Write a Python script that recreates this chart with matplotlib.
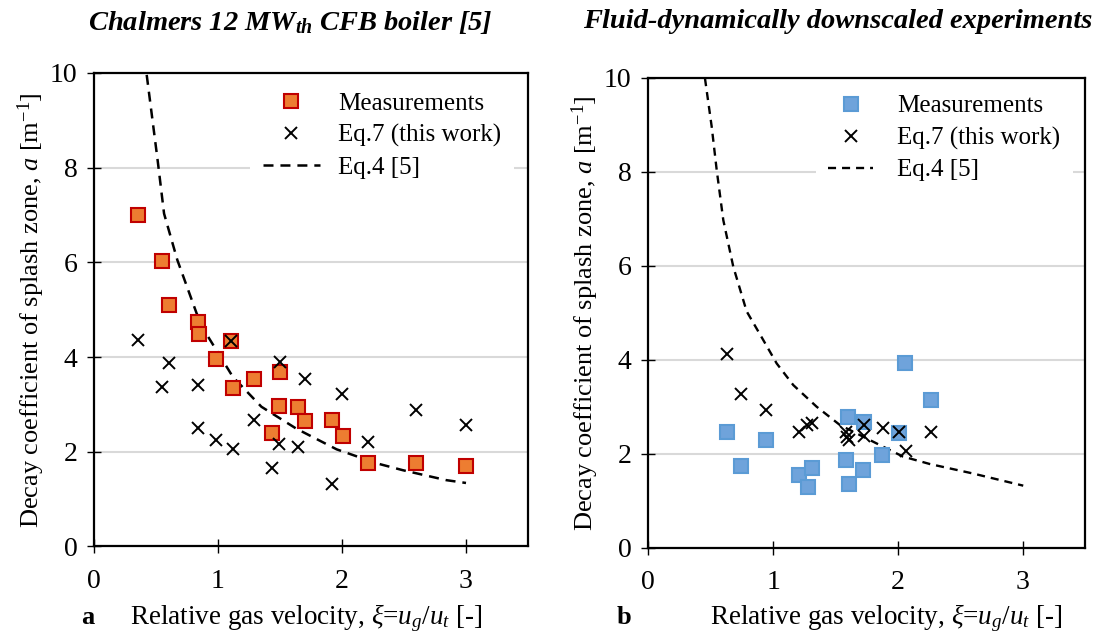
import matplotlib
matplotlib.use("Agg")
import matplotlib.pyplot as plt

plt.rcParams['font.family'] = ['Liberation Serif', 'DejaVu Serif']
plt.rcParams['mathtext.fontset'] = 'custom'
plt.rcParams['mathtext.rm'] = 'Liberation Serif'
plt.rcParams['mathtext.it'] = 'Liberation Serif:italic'
plt.rcParams['mathtext.bf'] = 'Liberation Serif:bold'
plt.rcParams['mathtext.bfit'] = 'Liberation Serif:italic:bold'
plt.rcParams['lines.scale_dashes'] = False

# panel a: Chalmers 12 MWth CFB boiler
a_meas_x = [0.352, 0.546, 0.605, 0.84, 0.847, 1.105, 0.98, 1.118, 1.293, 1.503,
            1.492, 1.438, 1.648, 1.704, 1.922, 2.005, 2.212, 2.60, 3.003]
a_meas_y = [7.00, 6.03, 5.10, 4.73, 4.49, 4.34, 3.95, 3.345, 3.535, 3.677,
            2.96, 2.40, 2.944, 2.655, 2.676, 2.33, 1.755, 1.755, 1.70]
a_eq7_x = [0.352, 0.605, 0.546, 0.839, 1.105, 1.503, 1.704, 2.0, 1.293, 0.84,
           0.98, 1.118, 1.492, 1.648, 2.212, 2.60, 3.003, 1.435, 1.922]
a_eq7_y = [4.36, 3.88, 3.37, 3.415, 4.34, 3.895, 3.54, 3.225, 2.67, 2.50,
           2.24, 2.057, 2.156, 2.106, 2.21, 2.89, 2.557, 1.66, 1.325]
a_eq4_x = [0.425, 0.513, 0.565, 0.672, 0.828, 0.92, 1.12, 1.35, 1.63, 1.957,
           2.28, 2.49, 2.84, 3.0]
a_eq4_y = [9.96, 8.16, 7.03, 6.05, 4.92, 4.43, 3.58, 2.95, 2.49, 2.05,
           1.755, 1.61, 1.40, 1.34]

# panel b: fluid-dynamically downscaled experiments
b_meas_x = [0.631, 0.745, 0.94, 1.205, 1.28, 1.314, 1.598, 1.582, 1.61, 1.726,
            1.72, 1.875, 2.011, 2.06, 2.265]
b_meas_y = [2.455, 1.74, 2.29, 1.547, 1.285, 1.70, 2.774, 1.872, 1.36, 2.674,
            1.653, 1.965, 2.447, 3.936, 3.15]
b_eq7_x = [0.633, 0.745, 0.94, 1.205, 1.269, 1.309, 1.584, 1.592, 1.61, 1.726,
           1.726, 1.878, 2.011, 2.063, 2.265]
b_eq7_y = [4.13, 3.277, 2.93, 2.47, 2.61, 2.66, 2.47, 2.36, 2.29, 2.61,
           2.376, 2.54, 2.455, 2.064, 2.46]
b_eq4_x = [0.454, 0.508, 0.548, 0.601, 0.681, 0.788, 0.921, 1.029, 1.162, 1.349,
           1.536, 1.776, 2.04, 2.257, 2.60, 3.005]
b_eq4_y = [9.99, 8.96, 8.04, 6.97, 5.98, 5.03, 4.42, 3.92, 3.46, 3.00,
           2.61, 2.29, 1.94, 1.78, 1.58, 1.32]

xticks = [0, 1, 2, 3]
yticks = [0, 2, 4, 6, 8, 10]

fig = plt.figure(figsize=(10.96, 6.36), dpi=100)
ax1 = fig.add_axes([94 / 1096, 1 - 546.4 / 636, 434 / 1096, 473.4 / 636])
ax2 = fig.add_axes([648.3 / 1096, 1 - 547.7 / 636, 436.7 / 1096, 470 / 636])

panels = [
    (ax1, a_meas_x, a_meas_y, a_eq7_x, a_eq7_y, a_eq4_x, a_eq4_y,
     dict(mfc='#ED7D31', mec='#C00000', mew=1.5, ms=9.5), 1.8, (7.2, 5.0),
     dict(handlelength=2.3, handletextpad=0.72, bbox_to_anchor=(0.36, 0.985))),
    (ax2, b_meas_x, b_meas_y, b_eq7_x, b_eq7_y, b_eq4_x, b_eq4_y,
     dict(mfc='#6FA3DB', mec='#5B9BD5', mew=1.5, ms=10.5), 1.7, (5.8, 4.3),
     dict(handlelength=1.8, handletextpad=0.96, bbox_to_anchor=(0.383, 0.99))),
]

for ax, mx, my, ex, ey, cx, cy, msty, lw, dash, legkw in panels:
    ax.plot(mx, my, ls='none', marker='s', label='Measurements', zorder=3, **msty)
    ax.plot(ex, ey, ls='none', marker='x', ms=8.5, mew=1.4, color='black',
            label='Eq.7 (this work)', zorder=4)
    ln, = ax.plot(cx, cy, color='black', lw=lw, label='Eq.4 [5]', zorder=2)
    ln.set_dashes(dash)

    ax.set_xlim(0, 3.5)
    ax.set_ylim(0, 10)
    ax.set_xticks(xticks)
    ax.set_yticks(yticks)
    ax.yaxis.grid(True, color='#D9D9D9', lw=1.5)
    ax.set_axisbelow(True)
    for s in ax.spines.values():
        s.set_linewidth(1.6)
    ax.tick_params(direction='inout', length=10, width=1, labelsize=20)
    ax.tick_params(axis='x', pad=11)
    ax.tick_params(axis='y', pad=7)
    ax.set_ylabel(r'Decay coefficient of splash zone, $a$ [m$^{\mathregular{-1}}$]',
                  fontsize=19, labelpad=2)

    leg = ax.legend(loc='upper left', fontsize=18, frameon=True, fancybox=False,
                    edgecolor='none', facecolor='white', framealpha=1,
                    borderpad=0.5, borderaxespad=0, labelspacing=0.37,
                    numpoints=1, **legkw)
    leg.set_zorder(2.45)

xlab = r'Relative gas velocity, $\xi$=$u_g$/$u_t$ [-]'
fig.text(306 / 1096, 0.019, xlab, fontsize=19.5, ha='center', va='baseline')
fig.text(886 / 1096, 0.019, xlab, fontsize=19.5, ha='center', va='baseline')
fig.text(88 / 1096, 0.019, 'a', fontsize=19, fontweight='bold', ha='center', va='baseline')
fig.text(624 / 1096, 0.019, 'b', fontsize=19, fontweight='bold', ha='center', va='baseline')

fig.text(290 / 1096, 1 - 22 / 636, r'$\mathbfit{Chalmers\ 12\ MW_{th}\ CFB\ boiler\ [5]}$',
         fontsize=20.5, ha='center', va='center')
fig.text(838 / 1096, 1 - 22 / 636, 'Fluid-dynamically downscaled experiments',
         fontsize=20.5, fontweight='bold', fontstyle='italic', ha='center', va='center')

fig.savefig('out.png', dpi=100)
